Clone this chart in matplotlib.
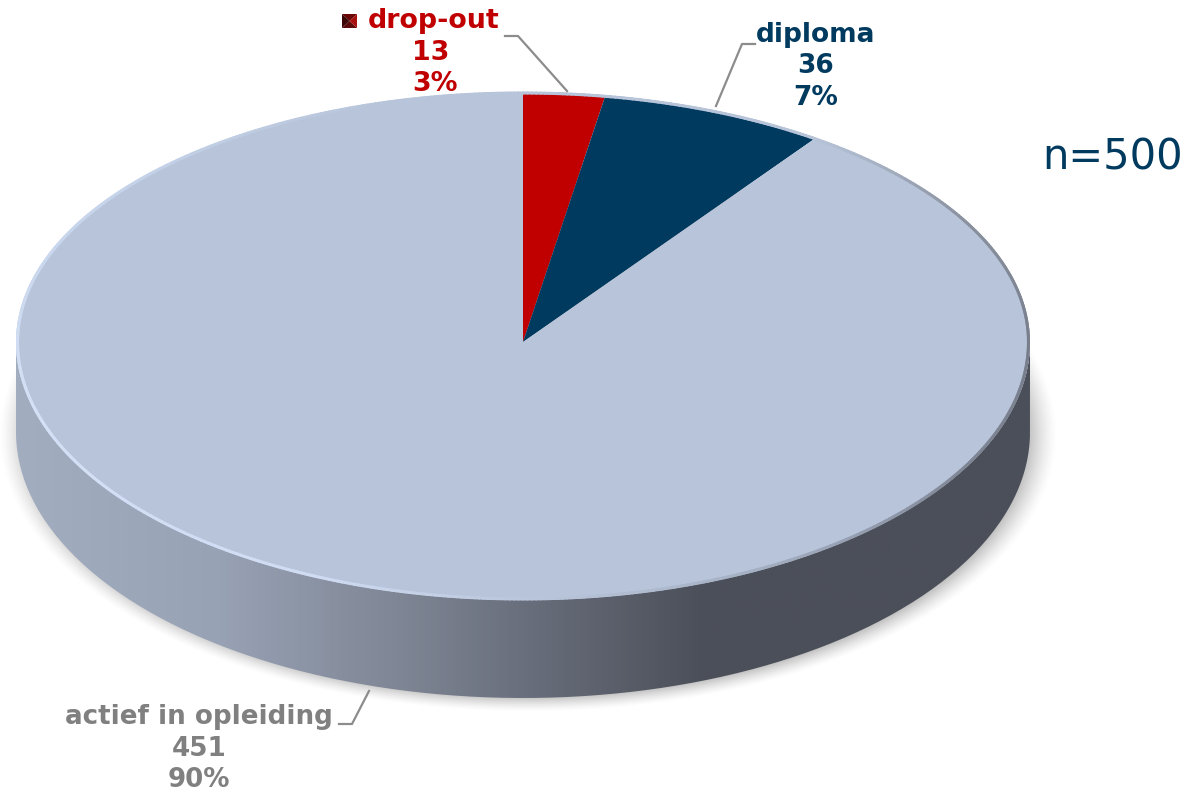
"""Recreate the 3D-look pie chart of student status."""
import matplotlib
matplotlib.use("Agg")
import matplotlib.pyplot as plt
import numpy as np
from matplotlib.collections import LineCollection
from matplotlib.colors import LinearSegmentedColormap, to_rgb
from matplotlib.lines import Line2D
from matplotlib.patches import PathPatch, Polygon
from matplotlib.path import Path

categories = ["drop-out", "diploma", "actief in opleiding"]
counts = [13, 36, 451]
percents = ["3%", "7%", "90%"]
sample_label = "n=500"

W, H = 1189, 793
CX, CY = 523, 342      # pie centre in pixels
RX, RY = 507, 250      # squashed radii in pixels
NEAR = 258 / RY        # front half of the disc is a bit taller (perspective)
BASE_Y = -90 / RY      # centre of the bottom edge ellipse
BASE_R = 266 / RY      # vertical radius of the bottom edge ellipse

slice_colors = ["#c00000", "#003a5f", "#b7c4d9"]
text_colors = ["#c00000", "#003a5f", "#808080"]

plt.rcParams["font.family"] = ["DejaVu Sans"]

fig = plt.figure(figsize=(W / 100, H / 100), dpi=100, facecolor="white")
ax = fig.add_axes([0, 0, 1, 1])
xlim = (-CX / RX, (W - CX) / RX)
ylim = ((CY - H) / RY, CY / RY)

# soft drop shadow under the disc
xx, yy = np.meshgrid(np.linspace(*xlim, W), np.linspace(ylim[1], ylim[0], H))
dist = np.hypot(xx - 0.01, (yy - BASE_Y + 0.01) / BASE_R)
shadow = np.zeros((H, W, 4))
shadow[..., :3] = 0.35
shadow[..., 3] = np.clip((1.045 - dist) / 0.06, 0, 1) ** 1.4 * 0.4
ax.imshow(shadow, extent=(*xlim, *ylim), aspect="auto", zorder=0, interpolation="bilinear")

# side wall: horizontal gradient clipped to the band below the top ellipse
t = np.linspace(np.pi, 2 * np.pi, 200)
upper = np.column_stack([np.cos(t), NEAR * np.sin(t)])
lower = np.column_stack([np.cos(t), BASE_Y + BASE_R * np.sin(t)])[::-1]
wall_path = Path(np.vstack([upper, lower, upper[:1]]))
wall_cmap = LinearSegmentedColormap.from_list("wall", [
    (0.0, "#a3adc0"), (0.2, "#98a2b5"), (0.37, "#808796"),
    (0.5, "#696f7c"), (0.68, "#4b4f59"), (1.0, "#4b4f59")])
wall_img = ax.imshow(np.linspace(0, 1, 512)[None, :], cmap=wall_cmap,
                     extent=(-1, 1, -1.5, 0), aspect="auto", zorder=1)
wall_patch = PathPatch(wall_path, transform=ax.transData, fc="none", ec="none")
ax.add_patch(wall_patch)
wall_img.set_clip_path(wall_patch)

# top face
ax.pie(counts, colors=slice_colors, startangle=90, counterclock=False, radius=1,
       wedgeprops={"linewidth": 0, "zorder": 2}, frame=False)
ax.add_patch(Polygon(upper, closed=True, fc=slice_colors[2], ec="none", zorder=1.5))
ax.set_aspect("auto")
ax.set_xlim(*xlim)
ax.set_ylim(*ylim)
ax.axis("off")

# bevel along the rim: dark on the right, light on the lower left
phi = np.radians(np.linspace(0, 360, 721))
rim_x = 0.997 * np.sin(phi)
rim_y = 0.996 * np.cos(phi) * np.where(np.cos(phi) < 0, NEAR, 1.0)
pts = np.column_stack([rim_x, rim_y]).reshape(-1, 1, 2)
segs = np.concatenate([pts[:-1], pts[1:]], axis=1)
deg = np.degrees(phi[:-1])
stops = [0, 35, 60, 92, 120, 150, 205, 255, 310, 345, 360]
fill = to_rgb("#b7c4d9")
stop_cols = [fill, fill, "#8a919f", "#777d8b", "#7f8695", "#a2adc0",
             "#cfdcf3", "#d3e0f6", "#c5d3ea", fill, fill]
stop_cols = np.array([to_rgb(c) for c in stop_cols])
rim_cols = np.column_stack([np.interp(deg, stops, stop_cols[:, i]) for i in range(3)])
ax.add_collection(LineCollection(segs, colors=rim_cols, linewidths=2.2, zorder=3,
                                 capstyle="round"))


def fx(x):
    return x / W


def fy(y):
    return 1 - y / H


# leader lines
leaders = [
    ([505, 518, 567], [36, 36, 91]),
    ([755, 742, 716], [44, 44, 106]),
    ([339, 352, 369], [724, 724, 691]),
]
for xs, ys in leaders:
    fig.add_artist(Line2D([fx(v) for v in xs], [fy(v) for v in ys], color="#8c8c8c",
                          lw=1.6, transform=fig.transFigure, zorder=5))

# labels: name, count, percent stacked
label_x = [(434, 431, 435), (816, 816, 816), (199, 199, 199)]
label_y = [(21, 53, 84), (35, 66, 98), (717, 749, 780)]
label_size = [19.4, 19.0, 18.8]
for i, name in enumerate(categories):
    lines = [name, str(counts[i]), percents[i]]
    for txt, x, y in zip(lines, label_x[i], label_y[i]):
        fig.text(fx(x), fy(y), txt, color=text_colors[i], fontsize=label_size[i], fontweight="bold",
                 ha="center", va="center", zorder=6)

fig.text(fx(1113), fy(157), sample_label, color="#003a5f", fontsize=30,
         ha="center", va="center", zorder=6)

# legend key of drop-out: small bevelled square
kx0, kx1, ky0, ky1 = fx(342), fx(357), fy(28), fy(14)
kmx, kmy = (kx0 + kx1) / 2, (ky0 + ky1) / 2
key_faces = [
    ([(kx0, ky0), (kx1, ky0), (kmx, kmy)], "#5a0a0a"),
    ([(kx0, ky1), (kx1, ky1), (kmx, kmy)], "#6a0808"),
    ([(kx0, ky0), (kx0, ky1), (kmx, kmy)], "#3a0808"),
    ([(kx1, ky0), (kx1, ky1), (kmx, kmy)], "#a81010"),
]
for xy, col in key_faces:
    fig.add_artist(Polygon(xy, closed=True, fc=col, ec="none", transform=fig.transFigure, zorder=6))

fig.savefig("out.png", dpi=100, facecolor="white")
plt.close(fig)
